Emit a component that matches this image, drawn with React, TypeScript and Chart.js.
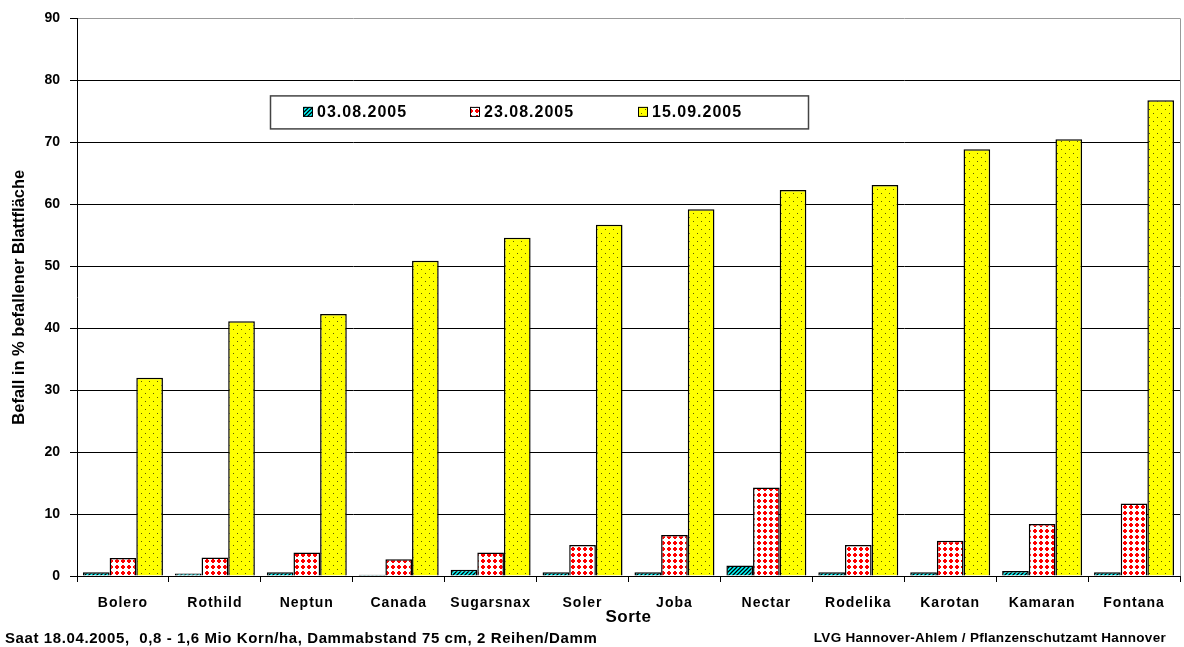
import React, { useEffect, useRef } from "react";
import { Chart, registerables } from "chart.js";

Chart.register(...registerables);

const categories = ["Bolero", "Rothild", "Neptun", "Canada", "Sugarsnax", "Soler", "Joba", "Nectar", "Rodelika", "Karotan", "Kamaran", "Fontana"];
const seriesLabels = ["03.08.2005", "23.08.2005", "15.09.2005"];
const values0308 = [0.6, 0.4, 0.6, 0.2, 1.0, 0.6, 0.6, 1.7, 0.6, 0.6, 0.8, 0.6];
const values2308 = [2.9, 3.0, 3.8, 2.7, 3.8, 5.0, 6.6, 14.3, 5.0, 5.7, 8.4, 11.7];
const values1509 = [32.0, 41.1, 42.3, 50.9, 54.6, 56.7, 59.2, 62.3, 63.1, 68.9, 70.5, 76.8];
const yMin = 0;
const yMax = 90;
const yStep = 10;
const yTitle = "Befall in % befallener Blattfläche";
const xTitle = "Sorte";
const footLeft = "Saat 18.04.2005,  0,8 - 1,6 Mio Korn/ha, Dammabstand 75 cm, 2 Reihen/Damm";
const footRight = "LVG Hannover-Ahlem / Pflanzenschutzamt Hannover";

const FONT = "'Liberation Sans', Arial, sans-serif";

function makePattern(kind: string): CanvasPattern | string {
  const c = document.createElement("canvas");
  const g = c.getContext("2d");
  if (!g) return "#ccc";
  if (kind === "cyan") {
    c.width = 4; c.height = 4;
    g.fillStyle = "#00FFFF"; g.fillRect(0, 0, 4, 4);
    g.strokeStyle = "#000"; g.lineWidth = 1.3;
    g.beginPath();
    g.moveTo(-1, 5); g.lineTo(5, -1);
    g.moveTo(-3, 3); g.lineTo(3, -3);
    g.moveTo(1, 7); g.lineTo(7, 1);
    g.stroke();
  } else if (kind === "red") {
    c.width = 6; c.height = 6;
    g.fillStyle = "#fff"; g.fillRect(0, 0, 6, 6);
    g.fillStyle = "#FF0000";
    g.fillRect(1, 2, 4, 2);
    g.fillRect(2, 1, 2, 4);
  } else {
    c.width = 8; c.height = 8;
    g.fillStyle = "#FFFF00"; g.fillRect(0, 0, 8, 8);
    g.fillStyle = "#5a5a00";
    g.fillRect(1, 1, 1, 1);
    g.fillRect(5, 5, 1, 1);
  }
  return g.createPattern(c, "repeat") || "#ccc";
}

function spaced(scale: any, spacing: string, titleSpacing: string) {
  if (scale.__spaced) return;
  scale.__spaced = true;
  const origLabels = scale.drawLabels.bind(scale);
  const origTitle = scale.drawTitle.bind(scale);
  scale.drawLabels = (ca: any) => {
    const ctx = scale.ctx;
    ctx.letterSpacing = spacing;
    origLabels(ca);
    ctx.letterSpacing = "0px";
  };
  scale.drawTitle = () => {
    const ctx = scale.ctx;
    ctx.letterSpacing = titleSpacing;
    origTitle();
    ctx.letterSpacing = "0px";
  };
}

export default function App() {
  const ref = useRef<HTMLCanvasElement | null>(null);
  useEffect(() => {
    if (!ref.current) return;
    const fills = [makePattern("cyan"), makePattern("red"), makePattern("yellow")];

    const frame = {
      id: "frame",
      beforeDatasetsDraw(chart: any) {
        const { ctx, chartArea: a } = chart;
        ctx.save();
        ctx.strokeStyle = "#999";
        ctx.lineWidth = 1;
        ctx.beginPath();
        ctx.moveTo(Math.round(a.right) + 0.5, a.top);
        ctx.lineTo(Math.round(a.right) + 0.5, a.bottom);
        ctx.stroke();
        ctx.restore();
      },
    };

    const boxLegend = {
      id: "boxLegend",
      afterDatasetsDraw(chart: any) {
        const { ctx, chartArea: a } = chart;
        const bx = a.left + 193;
        const by = a.top + 77;
        const bw = 538;
        const bh = 33;
        ctx.save();
        ctx.fillStyle = "#fff";
        ctx.fillRect(bx, by, bw, bh);
        ctx.strokeStyle = "#444";
        ctx.lineWidth = 1.5;
        ctx.strokeRect(bx + 0.5, by + 0.5, bw, bh);
        const offs = [33, 200, 368];
        ctx.font = `bold 16px ${FONT}`;
        ctx.letterSpacing = "1px";
        ctx.textBaseline = "middle";
        ctx.textAlign = "left";
        chart.data.datasets.forEach((ds: any, i: number) => {
          const sx = bx + offs[i];
          const sy = by + bh / 2 - 5;
          ctx.fillStyle = ds.backgroundColor;
          ctx.fillRect(sx, sy, 10, 10);
          ctx.strokeStyle = "#000";
          ctx.lineWidth = 1;
          ctx.strokeRect(sx + 0.5, sy + 0.5, 9, 9);
          ctx.fillStyle = "#000";
          ctx.fillText(ds.label, sx + 14, by + bh / 2 + 1);
        });
        ctx.letterSpacing = "0px";
        ctx.restore();
      },
    };

    const chart = new Chart(ref.current, {
      type: "bar",
      data: {
        labels: categories,
        datasets: [
          { label: seriesLabels[0], data: values0308, backgroundColor: fills[0] as any },
          { label: seriesLabels[1], data: values2308, backgroundColor: fills[1] as any },
          { label: seriesLabels[2], data: values1509, backgroundColor: fills[2] as any },
        ],
      },
      options: {
        responsive: false,
        animation: false,
        devicePixelRatio: 1,
        layout: { padding: { left: 0, right: 4, top: 17, bottom: 0 } },
        datasets: {
          bar: {
            categoryPercentage: 0.87,
            barPercentage: 1.0,
            borderColor: "#000",
            borderWidth: 1.5,
          },
        } as any,
        plugins: {
          legend: { display: false },
          tooltip: { enabled: false },
        },
        scales: {
          x: {
            afterFit(scale: any) { scale.height = 71; spaced(scale, "1px", "0.5px"); },
            grid: { offset: true, drawOnChartArea: false, drawTicks: true, tickLength: 6, color: "#000" },
            border: { color: "#000", width: 1 },
            ticks: { color: "#000", padding: 13, font: { family: FONT, size: 14, weight: "bold" } },
            title: { display: true, text: xTitle, color: "#000", padding: { top: 0, bottom: 19 }, font: { family: FONT, size: 17, weight: "bold" } },
          },
          y: {
            min: yMin,
            max: yMax,
            afterFit(scale: any) { scale.width = 77; },
            ticks: { stepSize: yStep, color: "#000", padding: 10, font: { family: FONT, size: 14, weight: "bold" } },
            grid: {
              color: (c: any) => (c.tick && c.tick.value === yMax ? "#999" : "#000"),
              tickColor: "#000",
              tickLength: 7,
              lineWidth: 1,
            },
            border: { color: "#000", width: 1 },
            title: { display: true, text: yTitle, color: "#000", padding: { top: 10, bottom: 0 }, font: { family: FONT, size: 16.5, weight: "bold" } },
          },
        },
      },
      plugins: [frame, boxLegend],
    });
    return () => chart.destroy();
  }, []);

  const footStyle: React.CSSProperties = {
    position: "absolute",
    top: 629,
    fontWeight: "bold",
    fontFamily: FONT,
    color: "#000",
    whiteSpace: "pre",
    lineHeight: "18px",
  };

  return (
    <div style={{ position: "absolute", left: 0, top: 0, width: 1184, height: 647, background: "#fff", overflow: "hidden" }}>
      <canvas ref={ref} width={1184} height={647} style={{ display: "block" }} />
      <div style={{ ...footStyle, left: 5, fontSize: 15, letterSpacing: "0.6px" }}>{footLeft}</div>
      <div style={{ ...footStyle, right: 18, fontSize: 13.5, letterSpacing: "0.3px" }}>{footRight}</div>
    </div>
  );
}
